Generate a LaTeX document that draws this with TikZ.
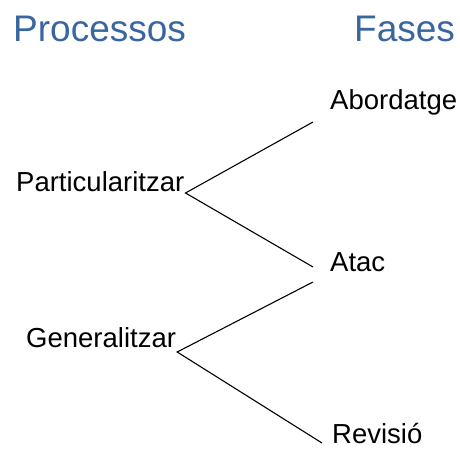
\documentclass[tikz,border=0pt]{standalone}
\usepackage{fontspec}
\setmainfont{Liberation Sans}
\definecolor{headblue}{RGB}{58,102,160}
\tikzset{
  heading/.style={text=headblue, font=\fontsize{37}{40}\selectfont, inner sep=0pt, anchor=base west},
  item/.style={font=\fontsize{27.5}{30}\selectfont, inner sep=0pt, anchor=base west},
  link/.style={line width=1.1pt}
}
\begin{document}
\begin{tikzpicture}[x=1pt, y=1pt]
\useasboundingbox (0,0) rectangle (460,452);
% Headings
\node[heading] (proc) at (13,410) {Processos};
\node[heading] (fases) at (354,410) {Fases};

% Processes
\node[item] (part) at (16,260) {Particularitzar};
\node[item] (gen) at (26,104) {Generalitzar};

% Phases
\node[item] (abord) at (330,342) {Abordatge};
\node[item] (atac) at (330,180) {Atac};
\node[item] (rev) at (332,9) {Revisió};

% Links
\draw[link] ([xshift=-17pt,yshift=-12pt]abord.base west) -- ([xshift=1pt,yshift=-1pt]part.base east)
    -- ([xshift=-17pt,yshift=5pt]atac.base west);
\draw[link] ([xshift=-17pt,yshift=-10pt]atac.base west) -- ([xshift=1pt,yshift=-4pt]gen.base east)
    -- ([xshift=-10pt]rev.base west);
\end{tikzpicture}
\end{document}
